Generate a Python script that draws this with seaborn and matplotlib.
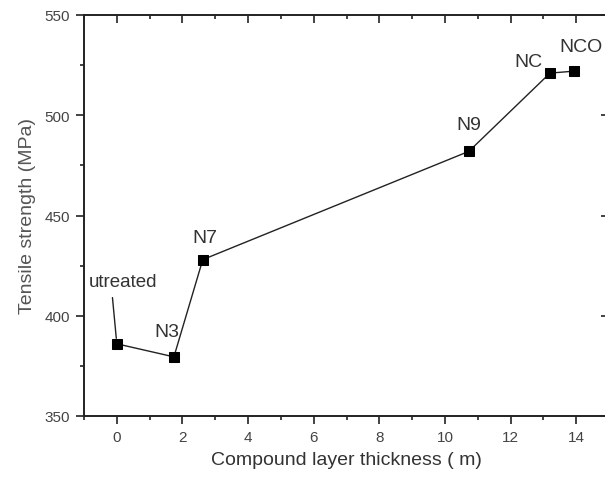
import pandas as pd
import numpy as np
import matplotlib.pyplot as plt
import seaborn as sns
from matplotlib.ticker import MultipleLocator

# data
samples = ['utreated', 'N3', 'N7', 'N9', 'NC', 'NCO']
thickness = [0.0, 1.74, 2.62, 10.73, 13.2, 13.93]
strength = [386, 379.5, 428, 482, 521, 522]

df = pd.DataFrame({'sample': samples, 'thickness': thickness, 'strength': strength})

sns.set_style('ticks')
plt.rcParams['font.family'] = ['Liberation Sans', 'DejaVu Sans']

fig = plt.figure(figsize=(6.05, 4.81), dpi=100)
# right spine sits just past the image edge, like the reference
ax = fig.add_axes([84 / 605, 64 / 481, 525 / 605, 401 / 481])

sns.lineplot(data=df, x='thickness', y='strength', ax=ax, color='#222222',
             linewidth=1.0, marker='s', markersize=6.5, markeredgecolor='black',
             markerfacecolor='black', sort=False)

ax.set_xlim(-1, 15)
ax.set_ylim(350, 550)
ax.xaxis.set_major_locator(MultipleLocator(2))
ax.xaxis.set_minor_locator(MultipleLocator(1))
ax.yaxis.set_major_locator(MultipleLocator(50))
ax.yaxis.set_minor_locator(MultipleLocator(25))

# outward ticks on bottom/left, inward on top/right
ax.tick_params(which='both', direction='out', width=1.2, colors='#222222',
               labelcolor='#444444', labelsize=11)
ax.tick_params(which='major', length=6, pad=4)
ax.tick_params(which='minor', length=3)
ax2 = ax.secondary_xaxis('top')
ax2.xaxis.set_major_locator(MultipleLocator(2))
ax2.xaxis.set_minor_locator(MultipleLocator(1))
ax2.tick_params(which='both', direction='in', width=1.2, labeltop=False, colors='#222222')
ax2.tick_params(which='major', length=6)
ax2.tick_params(which='minor', length=3)
ax3 = ax.secondary_yaxis('right')
ax3.yaxis.set_major_locator(MultipleLocator(50))
ax3.yaxis.set_minor_locator(MultipleLocator(25))
ax3.tick_params(which='both', direction='in', width=1.2, labelright=False, colors='#222222')
ax3.tick_params(which='major', length=6)
ax3.tick_params(which='minor', length=3)

for sp in ax.spines.values():
    sp.set_linewidth(1.4)
    sp.set_color('#222222')
for a in (ax2, ax3):
    for sp in a.spines.values():
        sp.set_visible(False)

ax.set_xlabel('Compound layer thickness ( m)', fontsize=14, color='#333333', labelpad=5)
ax.set_ylabel('Tensile strength (MPa)', fontsize=14, color='#555555', labelpad=6)

# point labels
ax.annotate('utreated', xy=(thickness[0], strength[0]), xytext=(0.18, 417),
            ha='center', va='center', fontsize=13.5, color='#333333',
            arrowprops=dict(arrowstyle='-', color='#222222', lw=1.0,
                            relpos=(0.34, 0), shrinkA=3, shrinkB=4))
offsets = {'N3': (-0.22, 12.5), 'N7': (0.06, 11), 'N9': (0.0, 13.6),
           'NC': (-0.67, 5.6), 'NCO': (0.22, 12.5)}
for s, x, y in zip(samples[1:], thickness[1:], strength[1:]):
    dx, dy = offsets[s]
    ax.text(x + dx, y + dy, s, ha='center', va='center', fontsize=14, color='#333333')

fig.savefig('out.png', dpi=100)
